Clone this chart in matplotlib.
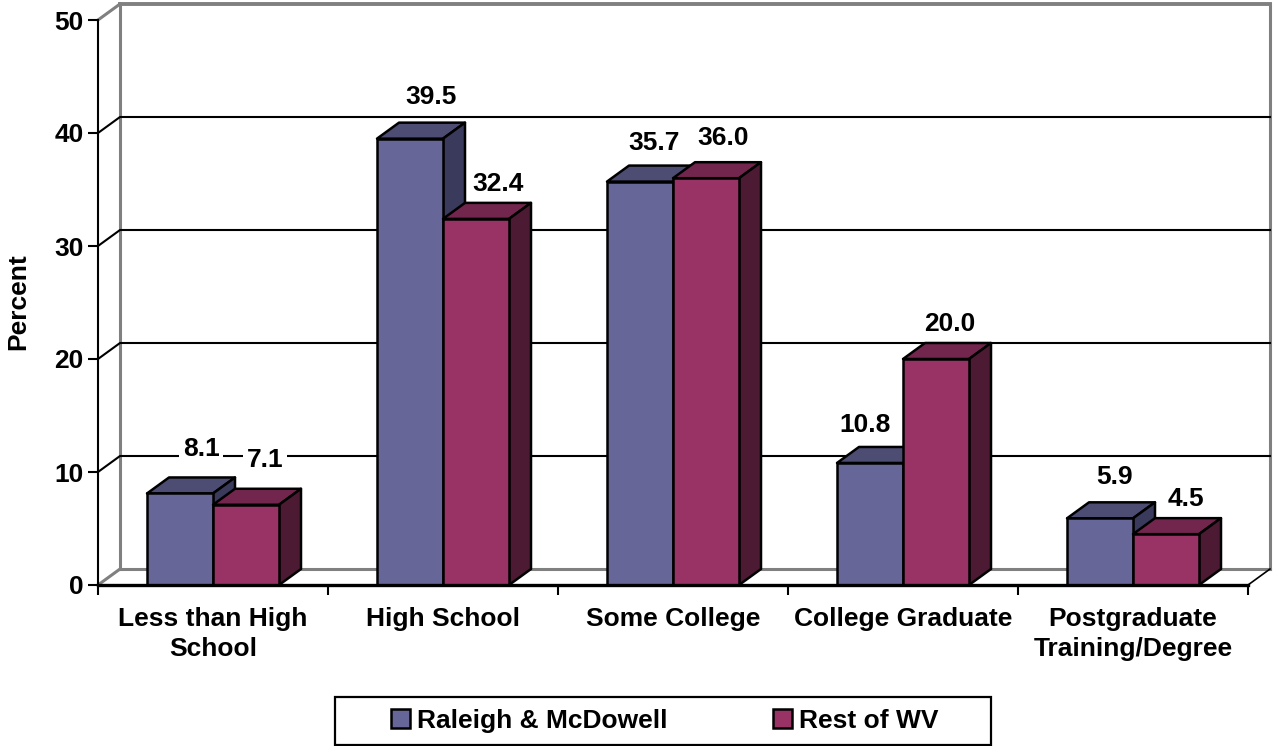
import matplotlib
matplotlib.use("Agg")
import matplotlib.pyplot as plt
from matplotlib.patches import Polygon, Patch, Rectangle

categories = ["Less than High\nSchool", "High School", "Some College",
              "College Graduate", "Postgraduate\nTraining/Degree"]
raleigh = [8.1, 39.5, 35.7, 10.8, 5.9]
rest_wv = [7.1, 32.4, 36.0, 20.0, 4.5]
yticks = [0, 10, 20, 30, 40, 50]

# label nudges in pixels, from the front top centre of each bar
raleigh_nudge = [(21, 44), (21, 42), (14, 39), (-5, 38), (15, 41)]
rest_nudge = [(19, 45), (22, 35), (17, 40), (14, 35), (20, 35)]

colors = {"blue": ("#666699", "#4d4d73", "#3a3a5c"),
          "red": ("#993366", "#73264d", "#4d1a33")}

plt.rcParams["font.family"] = ["Liberation Sans", "DejaVu Sans"]
plt.rcParams["font.weight"] = "bold"

W, H = 1278, 746
fs = 19
fig = plt.figure(figsize=(W / 100, H / 100), dpi=100)
ax = fig.add_axes([98 / W, (H - 585) / H, 1150 / W, 565 / H])
ax.set_xlim(0, 5)
ax.set_ylim(0, 50)

# depth of the fake 3d box in data units
dx = 22 / 230
dy = 16 / 11.3
bar_w = 66 / 230
gray = "#808080"

# back wall
ax.plot([dx, dx], [dy, 50 + dy], color=gray, lw=2.2, clip_on=False, zorder=1)
ax.plot([5 + dx, 5 + dx], [dy, 50 + dy], color=gray, lw=2.2, clip_on=False, zorder=1)
ax.plot([dx, 5 + dx], [50 + dy, 50 + dy], color=gray, lw=2.8, clip_on=False, zorder=1)
ax.plot([dx, 5 + dx], [dy, dy], color=gray, lw=2.2, clip_on=False, zorder=1)
ax.plot([0, dx], [50, 50 + dy], color=gray, lw=2.2, clip_on=False, zorder=1)
ax.plot([0, dx], [0, dy], color=gray, lw=2.2, clip_on=False, zorder=1)
ax.plot([5, 5 + dx], [0, dy], color="black", lw=1.2, clip_on=False, zorder=1)

for v in yticks[1:-1]:
    ax.plot([0, dx, 5 + dx], [v, v + dy, v + dy], color="black", lw=1.5,
            clip_on=False, zorder=2)


def draw_bar(x, h, cols, z):
    front, top, side = cols
    ax.add_patch(Polygon([(x, h), (x + bar_w, h), (x + bar_w + dx, h + dy), (x + dx, h + dy)],
                         facecolor=top, edgecolor="black", lw=1.8, joinstyle="round",
                         clip_on=False, zorder=z))
    ax.add_patch(Polygon([(x + bar_w, 0), (x + bar_w + dx, dy), (x + bar_w + dx, h + dy), (x + bar_w, h)],
                         facecolor=side, edgecolor="black", lw=1.8, joinstyle="round",
                         clip_on=False, zorder=z))
    ax.bar(x, h, bar_w, align="edge", color=front, edgecolor="black", lw=1.8,
           clip_on=False, zorder=z)


for i in range(len(categories)):
    x0 = i + 0.5 - bar_w
    x1 = i + 0.5
    draw_bar(x0, raleigh[i], colors["blue"], 3 + i * 2)
    draw_bar(x1, rest_wv[i], colors["red"], 4 + i * 2)
    for x, v, n in ((x0, raleigh[i], raleigh_nudge[i]), (x1, rest_wv[i], rest_nudge[i])):
        ax.annotate(f"{v:.1f}", (x + bar_w / 2, v), xytext=n, textcoords="offset pixels",
                    ha="center", va="center", fontsize=fs, fontweight="bold", zorder=20,
                    bbox=dict(facecolor="white", edgecolor="none", pad=2.5))

# axes lines and ticks
for s in ("top", "right"):
    ax.spines[s].set_visible(False)
ax.spines["left"].set_linewidth(1.5)
ax.spines["bottom"].set_linewidth(2.4)
ax.spines["bottom"].set_zorder(15)
ax.set_yticks(yticks)
ax.set_xticks(range(6))
ax.set_xticklabels([])
ax.tick_params(axis="y", length=7, width=1.5, pad=3.5, labelsize=fs)
ax.tick_params(axis="x", length=7.5, width=1.5)
for i, c in enumerate(categories):
    ax.annotate(c, (i + 0.5, 0), xytext=(0, -22), textcoords="offset pixels", ha="center",
                va="top", fontsize=fs, fontweight="bold", linespacing=1.3)
fig.text(18 / W, (H - 302) / H, "Percent", rotation=90, ha="center", va="center",
         fontsize=fs, fontweight="bold")

# legend box is wider than its entries, so the frame is its own patch
fig.add_artist(Rectangle((335 / W, (H - 745) / H), 656 / W, 48 / H, transform=fig.transFigure,
                         facecolor="white", edgecolor="black", lw=1.6))
handles = [Patch(facecolor=colors["blue"][0], edgecolor="black", lw=1.8, label="Raleigh & McDowell"),
           Patch(facecolor=colors["red"][0], edgecolor="black", lw=1.8, label="Rest of WV")]
leg = fig.legend(handles=handles, loc="center", bbox_to_anchor=(664.5 / W, (H - 721) / H), ncol=2,
                 fontsize=fs, frameon=False, handlelength=0.72, handleheight=0.72,
                 handletextpad=0.27, columnspacing=4.0, borderpad=0, borderaxespad=0)
leg.set_zorder(30)

fig.savefig("out.png", dpi=100)
